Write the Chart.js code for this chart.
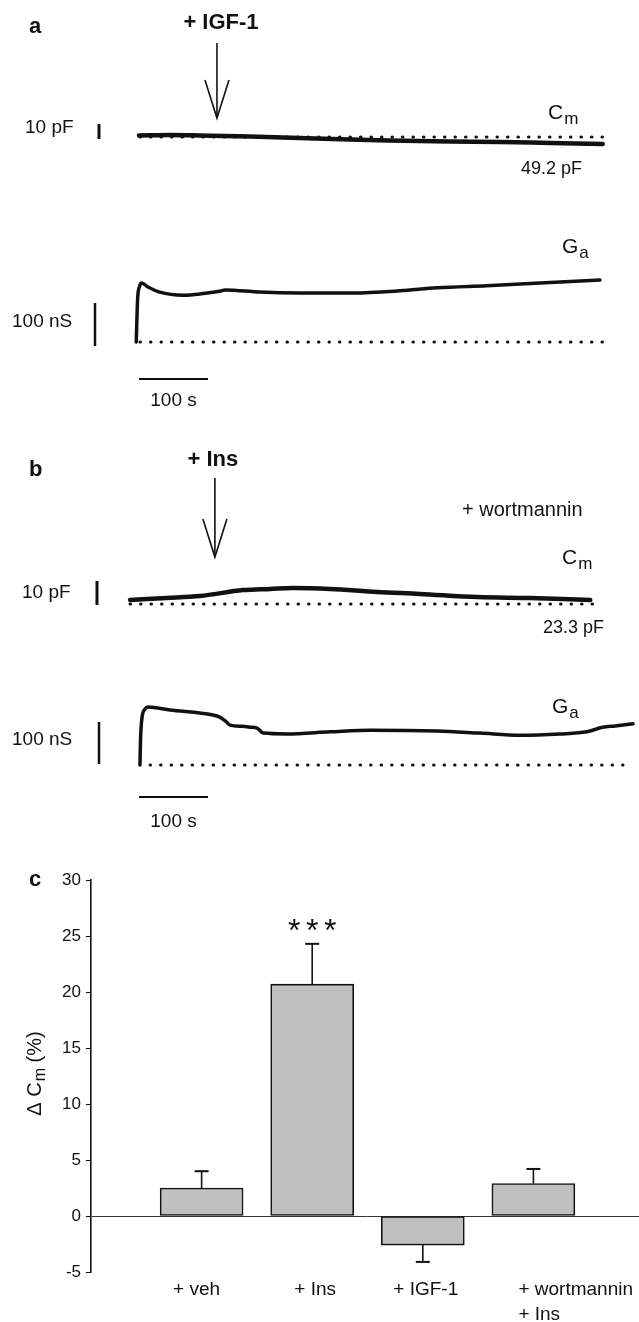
<!DOCTYPE html>
<html>
<head>
<meta charset="utf-8">
<script src="https://cdn.jsdelivr.net/npm/chart.js@4.4.1/dist/chart.umd.min.js"></script>
<style>
  body { margin: 0; background: #fff; overflow: hidden; }
  #wrap { position: relative; width: 639px; height: 1322px; overflow: hidden; }
  canvas { position: absolute; left: 0; }
</style>
</head>
<body>
<div id="wrap">
  <canvas id="traces" width="639" height="840" style="top:0"></canvas>
  <canvas id="bars" width="644" height="482" style="top:840px"></canvas>
</div>
<script>
// panel a: + IGF-1  (time in s, Cm in pF relative to 49.2 pF, Ga in nS)
const tCmA = [0, 45, 88, 161, 233, 306, 361, 451, 523, 596, 672];
const cmA  = [1.0, 1.3, 1.0, 0.3, -0.7, -1.7, -2.3, -3.0, -3.3, -4.0, -4.7];
const tGaA = [-4, -2, 1, 4, 13, 30, 64, 90, 117, 125, 175, 233, 310, 378, 432, 504, 581, 668];
const gaA  = [0, 100, 130, 137, 128, 116, 109, 112, 118, 121, 116, 114, 114, 119, 126, 131, 137, 144];

// panel b: + wortmannin, + Ins  (Cm relative to 23.3 pF)
const tCmB = [-13, 40, 88, 151, 190, 223, 277, 345, 407, 490, 567, 654];
const cmB  = [1.7, 2.5, 3.3, 5.8, 6.3, 6.7, 6.3, 5.0, 4.2, 2.9, 2.5, 1.7];
const tGaB = [1.4, 2.2, 4.3, 8.7, 13, 45, 107, 117, 125, 132, 150, 161, 171, 180, 214, 277, 335, 432, 494, 552, 610, 649, 672, 690, 716];
const gaB  = [0, 60, 112, 133, 138, 131, 119, 114, 105, 95, 92, 90, 88, 76, 74, 79, 83, 81, 76, 71, 74, 79, 90, 93, 98];

const igfTime = 113, insTime = 110;               // time of addition (s)
const scaleCm = 10, scaleGa = 100, scaleT = 100;  // scale bars: pF, nS, s

// panel c: delta Cm (%)
const categories = [['+ veh'], ['+ Ins'], ['+ IGF-1'], ['+ wortmannin', '+ Ins']];
const meanCm = [2.5, 20.7, -2.6, 2.9];
const semCm  = [1.5, 3.6, 1.5, 1.3];
const yTicks = [-5, 0, 5, 10, 15, 20, 25, 30];

const FONT = '"Liberation Sans", Arial, Helvetica, sans-serif';
const INK = '#111';

function pts(ts, vs) { return ts.map((t, i) => ({ x: t, y: vs[i] })); }
// value range so that 0 sits at zeroPx with k px per unit (canvas y goes down)
function yRange(zeroPx, k, h) { return { min: (zeroPx - h) / k, max: zeroPx / k }; }

function text(ctx, s, x, y, size, opt) {
  opt = opt || {};
  ctx.save();
  ctx.font = (opt.bold ? 'bold ' : '') + size + 'px ' + FONT;
  ctx.fillStyle = INK;
  ctx.textAlign = opt.align || 'left';
  ctx.textBaseline = 'middle';
  ctx.fillText(s, x, y);
  ctx.restore();
}
function subLabel(ctx, main, sub, x, y, size) {
  ctx.save();
  ctx.font = size + 'px ' + FONT;
  const w = ctx.measureText(main).width;
  ctx.restore();
  text(ctx, main, x, y, size);
  text(ctx, sub, x + w + 1, y + size * 0.32, Math.round(size * 0.8));
}
function line(ctx, x0, y0, x1, y1, w) {
  ctx.save();
  ctx.strokeStyle = INK;
  ctx.lineWidth = w;
  ctx.beginPath();
  ctx.moveTo(x0, y0);
  ctx.lineTo(x1, y1);
  ctx.stroke();
  ctx.restore();
}
function arrow(ctx, x, y0, y1) {
  line(ctx, x, y0, x, y1, 1.6);
  ctx.save();
  ctx.strokeStyle = INK;
  ctx.lineWidth = 1.6;
  ctx.beginPath();
  ctx.moveTo(x - 12, y1 - 38);
  ctx.lineTo(x, y1);
  ctx.lineTo(x + 12, y1 - 38);
  ctx.stroke();
  ctx.restore();
}

const H1 = 840;
const dotted = { borderColor: INK, borderWidth: 3, borderDash: [0.5, 10], borderCapStyle: 'round', pointRadius: 0, fill: false };
const trace = { borderColor: INK, pointRadius: 0, fill: false, cubicInterpolationMode: 'monotone', borderJoinStyle: 'round', borderCapStyle: 'round' };

const traceNotes = {
  id: 'traceNotes',
  afterDraw(chart) {
    const ctx = chart.ctx, s = chart.scales;
    const px = t => s.x.getPixelForValue(t);
    const span = (sc, v) => Math.abs(sc.getPixelForValue(v) - sc.getPixelForValue(0));

    // panel a
    text(ctx, 'a', 29, 27, 22, { bold: true });
    text(ctx, '+ IGF-1', px(igfTime) + 4, 23, 22, { bold: true, align: 'center' });
    arrow(ctx, px(igfTime), 43, 118);
    text(ctx, '10 pF', 25, 128, 19);
    line(ctx, 99, 124, 99, 124 + span(s.yCa, scaleCm), 3);
    subLabel(ctx, 'C', 'm', 548, 113, 21);
    text(ctx, '49.2 pF', 582, 169, 18, { align: 'right' });
    subLabel(ctx, 'G', 'a', 562, 247, 21);
    text(ctx, '100 nS', 12, 322, 19);
    line(ctx, 95, 303, 95, 303 + span(s.yGa, scaleGa), 2.5);
    line(ctx, px(0), 379, px(scaleT), 379, 2);
    text(ctx, '100 s', (px(0) + px(scaleT)) / 2, 401, 19, { align: 'center' });

    // panel b
    text(ctx, 'b', 29, 470, 22, { bold: true });
    text(ctx, '+ Ins', px(insTime) - 2, 460, 22, { bold: true, align: 'center' });
    arrow(ctx, px(insTime), 478, 557);
    text(ctx, '+ wortmannin', 462, 510, 20);
    subLabel(ctx, 'C', 'm', 562, 558, 21);
    text(ctx, '10 pF', 22, 593, 19);
    line(ctx, 97, 581, 97, 581 + span(s.yCb, scaleCm), 3);
    text(ctx, '23.3 pF', 604, 628, 18, { align: 'right' });
    subLabel(ctx, 'G', 'a', 552, 707, 21);
    text(ctx, '100 nS', 12, 740, 19);
    line(ctx, 99, 722, 99, 722 + span(s.yGb, scaleGa), 2.5);
    line(ctx, px(0), 797, px(scaleT), 797, 2);
    text(ctx, '100 s', (px(0) + px(scaleT)) / 2, 822, 19, { align: 'center' });
  }
};

new Chart(document.getElementById('traces'), {
  type: 'line',
  data: {
    datasets: [
      Object.assign({ data: [{ x: 1.4, y: 0 }, { x: 672, y: 0 }], yAxisID: 'yCa' }, dotted),
      Object.assign({ data: pts(tCmA, cmA), yAxisID: 'yCa', borderWidth: 4.5 }, trace),
      Object.assign({ data: [{ x: 1.4, y: 0 }, { x: 672, y: 0 }], yAxisID: 'yGa' }, dotted),
      Object.assign({ data: pts(tGaA, gaA), yAxisID: 'yGa', borderWidth: 3.5 }, trace),
      Object.assign({ data: [{ x: -13, y: 0 }, { x: 668, y: 0 }], yAxisID: 'yCb' }, dotted),
      Object.assign({ data: pts(tCmB, cmB), yAxisID: 'yCb', borderWidth: 4.5 }, trace),
      Object.assign({ data: [{ x: 16, y: 0 }, { x: 716, y: 0 }], yAxisID: 'yGb' }, dotted),
      Object.assign({ data: pts(tGaB, gaB), yAxisID: 'yGb', borderWidth: 3.5 }, trace)
    ]
  },
  options: {
    responsive: false,
    animation: false,
    events: [],
    layout: { padding: 0 },
    plugins: { legend: { display: false }, tooltip: { enabled: false } },
    scales: {
      x: { type: 'linear', display: false, min: -139 / 0.69, max: (639 - 139) / 0.69 },
      yCa: Object.assign({ type: 'linear', display: false }, yRange(137, 1.5, H1)),
      yGa: Object.assign({ type: 'linear', display: false }, yRange(342, 0.43, H1)),
      yCb: Object.assign({ type: 'linear', display: false }, yRange(604, 2.4, H1)),
      yGb: Object.assign({ type: 'linear', display: false }, yRange(765, 0.42, H1))
    }
  },
  plugins: [traceNotes]
});

const barNotes = {
  id: 'barNotes',
  afterDatasetsDraw(chart) {
    const ctx = chart.ctx, y = chart.scales.y;
    const bars = chart.getDatasetMeta(0).data;
    meanCm.forEach((m, i) => {
      const b = bars[i + 1];
      const end = y.getPixelForValue(m + Math.sign(m) * semCm[i]);
      line(ctx, b.x, b.y, b.x, end, 1.6);
      line(ctx, b.x - 7, end, b.x + 7, end, 2);
    });
  },
  afterDraw(chart) {
    const ctx = chart.ctx, x = chart.scales.x, y = chart.scales.y;
    text(ctx, 'c', 29, 40, 22, { bold: true });
    // significance over + Ins
    const xi = x.getPixelForValue(2);
    const top = y.getPixelForValue(meanCm[1] + semCm[1]);
    [-18, 0, 18].forEach(d => text(ctx, '*', xi + d, top - 12, 32, { align: 'center' }));
    // category labels
    categories.forEach((lines, i) => {
      const cx = x.getPixelForValue(i + 1);
      lines.forEach((s, j) => {
        if (lines.length > 1) text(ctx, s, cx - 15, 450 + j * 25, 19);
        else text(ctx, s, cx + (i === 0 ? -5 : 3), 450, 19, { align: 'center' });
      });
    });
    // y title: delta C_m (%)
    ctx.save();
    ctx.translate(35, 234);
    ctx.rotate(-Math.PI / 2);
    ctx.font = '20px ' + FONT;
    const parts = ['\u0394 C', 'm', ' (%)'];
    const w0 = ctx.measureText(parts[0]).width;
    ctx.font = '16px ' + FONT;
    const w1 = ctx.measureText(parts[1]).width;
    ctx.font = '20px ' + FONT;
    const w2 = ctx.measureText(parts[2]).width;
    let x0 = -(w0 + w1 + w2) / 2;
    ctx.fillStyle = INK;
    ctx.textBaseline = 'middle';
    ctx.fillText(parts[0], x0, 0);
    ctx.font = '16px ' + FONT;
    ctx.fillText(parts[1], x0 + w0 + 1, 6);
    ctx.font = '20px ' + FONT;
    ctx.fillText(parts[2], x0 + w0 + w1 + 1, 0);
    ctx.restore();
  }
};

new Chart(document.getElementById('bars'), {
  type: 'bar',
  data: {
    labels: ['', ...categories.map(c => c.join(' ')), ''],
    datasets: [{
      data: [null, ...meanCm, null],
      backgroundColor: '#c0c0c0',
      borderColor: INK,
      borderWidth: 1.6,
      borderSkipped: false,
      barThickness: 83
    }]
  },
  options: {
    responsive: false,
    animation: false,
    events: [],
    layout: { padding: { top: 40, bottom: 50, left: 0, right: 0 } },
    plugins: { legend: { display: false }, tooltip: { enabled: false } },
    scales: {
      x: { type: 'category', offset: false, display: false },
      y: {
        min: yTicks[0],
        max: yTicks[yTicks.length - 1],
        afterFit(scale) { scale.width = 91; },
        afterBuildTicks(scale) { scale.ticks = yTicks.map(v => ({ value: v })); },
        ticks: { color: INK, padding: 5, font: { family: FONT, size: 17 } },
        grid: {
          drawOnChartArea: true,
          color: c => (c.tick && c.tick.value === 0 ? '#333' : 'rgba(0,0,0,0)'),
          tickColor: INK,
          tickLength: 5,
          lineWidth: 1
        },
        border: { display: true, color: INK, width: 1.6 }
      }
    }
  },
  plugins: [barNotes]
});
</script>
</body>
</html>
